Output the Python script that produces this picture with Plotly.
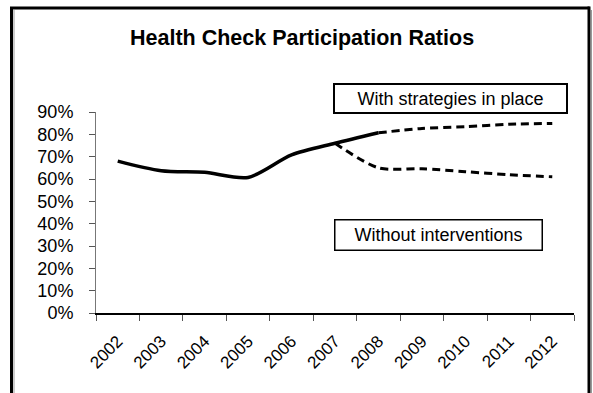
import plotly.graph_objects as go

# Health check participation ratios (share of eligible population)
years = ["2002", "2003", "2004", "2005", "2006", "2007", "2008", "2009", "2010", "2011", "2012"]

observed_years = years[:7]
observed = [0.68, 0.637, 0.63, 0.607, 0.708, 0.76, 0.807]

with_strategies_years = years[6:]
with_strategies = [0.807, 0.826, 0.834, 0.845, 0.849]

without_years = years[5:]
without_interventions = [0.76, 0.65, 0.646, 0.633, 0.619, 0.61]

y_ticks = [0, 0.1, 0.2, 0.3, 0.4, 0.5, 0.6, 0.7, 0.8, 0.9]
y_labels = ["0%", "10%", "20%", "30%", "40%", "50%", "60%", "70%", "80%", "90%"]

W, H = 593, 393
ML, MR, MT, MB = 96, 19, 112, 80
PW, PH = W - ML - MR, H - MT - MB


def px(x):
    return (x - ML) / PW


def py(y):
    return (H - MB - y) / PH


FONT = "Liberation Sans, Arial, sans-serif"

fig = go.Figure()
fig.add_trace(go.Scatter(
    x=observed_years, y=observed, mode="lines",
    line=dict(color="black", width=3.5, shape="spline", smoothing=0.8),
    showlegend=False, hoverinfo="skip"))
fig.add_trace(go.Scatter(
    x=with_strategies_years, y=with_strategies, mode="lines",
    line=dict(color="black", width=3, dash="8px,5px", shape="spline", smoothing=0.8),
    showlegend=False, hoverinfo="skip"))
fig.add_trace(go.Scatter(
    x=without_years, y=without_interventions, mode="lines",
    line=dict(color="black", width=3, dash="8px,5px", shape="spline", smoothing=0.8),
    showlegend=False, hoverinfo="skip"))

fig.update_xaxes(
    type="category", categoryorder="array", categoryarray=years,
    range=[-0.5, 10.5], tickson="boundaries", ticks="outside", ticklen=6,
    tickcolor="#555", tickwidth=1, showline=True, linecolor="black", linewidth=1.5,
    showgrid=False, zeroline=False, tickangle=-45, ticklabelstandoff=10,
    tickfont=dict(family=FONT, size=17, color="black"))
fig.update_yaxes(
    range=[0, 0.9], tickvals=y_ticks, ticktext=y_labels, ticks="outside", ticklen=6,
    tickcolor="#555", tickwidth=1, showline=True, linecolor="#777", linewidth=1,
    showgrid=False, zeroline=False, ticklabelstandoff=12,
    tickfont=dict(family=FONT, size=18, color="black"))

# outer frame, open at the bottom
fig.add_shape(type="line", xref="paper", yref="paper",
              x0=px(11.5), x1=px(11.5), y0=py(7.5), y1=py(400),
              line=dict(color="black", width=3))
fig.add_shape(type="line", xref="paper", yref="paper",
              x0=px(10), x1=px(589.5), y0=py(8), y1=py(8),
              line=dict(color="black", width=3))
fig.add_shape(type="line", xref="paper", yref="paper",
              x0=px(589), x1=px(589), y0=py(6.5), y1=py(400),
              line=dict(color="black", width=3))
fig.add_shape(type="line", xref="paper", yref="paper",
              x0=px(14), x1=px(14), y0=py(10), y1=py(400),
              line=dict(color="#999", width=1))
fig.add_shape(type="line", xref="paper", yref="paper",
              x0=px(591.5), x1=px(591.5), y0=py(10), y1=py(400),
              line=dict(color="#999", width=1))

fig.add_annotation(
    text="<b>Health Check Participation Ratios</b>", xref="paper", yref="paper",
    x=px(301.5), y=py(38), xanchor="center", yanchor="middle", showarrow=False,
    font=dict(family=FONT, size=21.5, color="black"))

fig.add_annotation(
    text="With strategies in place", xref="paper", yref="paper",
    x=px(450.5), y=py(98), xanchor="center", yanchor="middle", showarrow=False,
    width=229, height=25, borderpad=1, bordercolor="black", borderwidth=2,
    bgcolor="white", font=dict(family=FONT, size=18, color="black"))

fig.add_annotation(
    text="Without interventions", xref="paper", yref="paper",
    x=px(438), y=py(235), xanchor="center", yanchor="middle", showarrow=False,
    width=204, height=27, borderpad=1, bordercolor="black", borderwidth=1.5,
    bgcolor="white", font=dict(family=FONT, size=18, color="black"))

fig.update_layout(
    width=W, height=H, margin=dict(l=ML, r=MR, t=MT, b=MB),
    paper_bgcolor="white", plot_bgcolor="white", showlegend=False)

fig.write_html("out.html")
